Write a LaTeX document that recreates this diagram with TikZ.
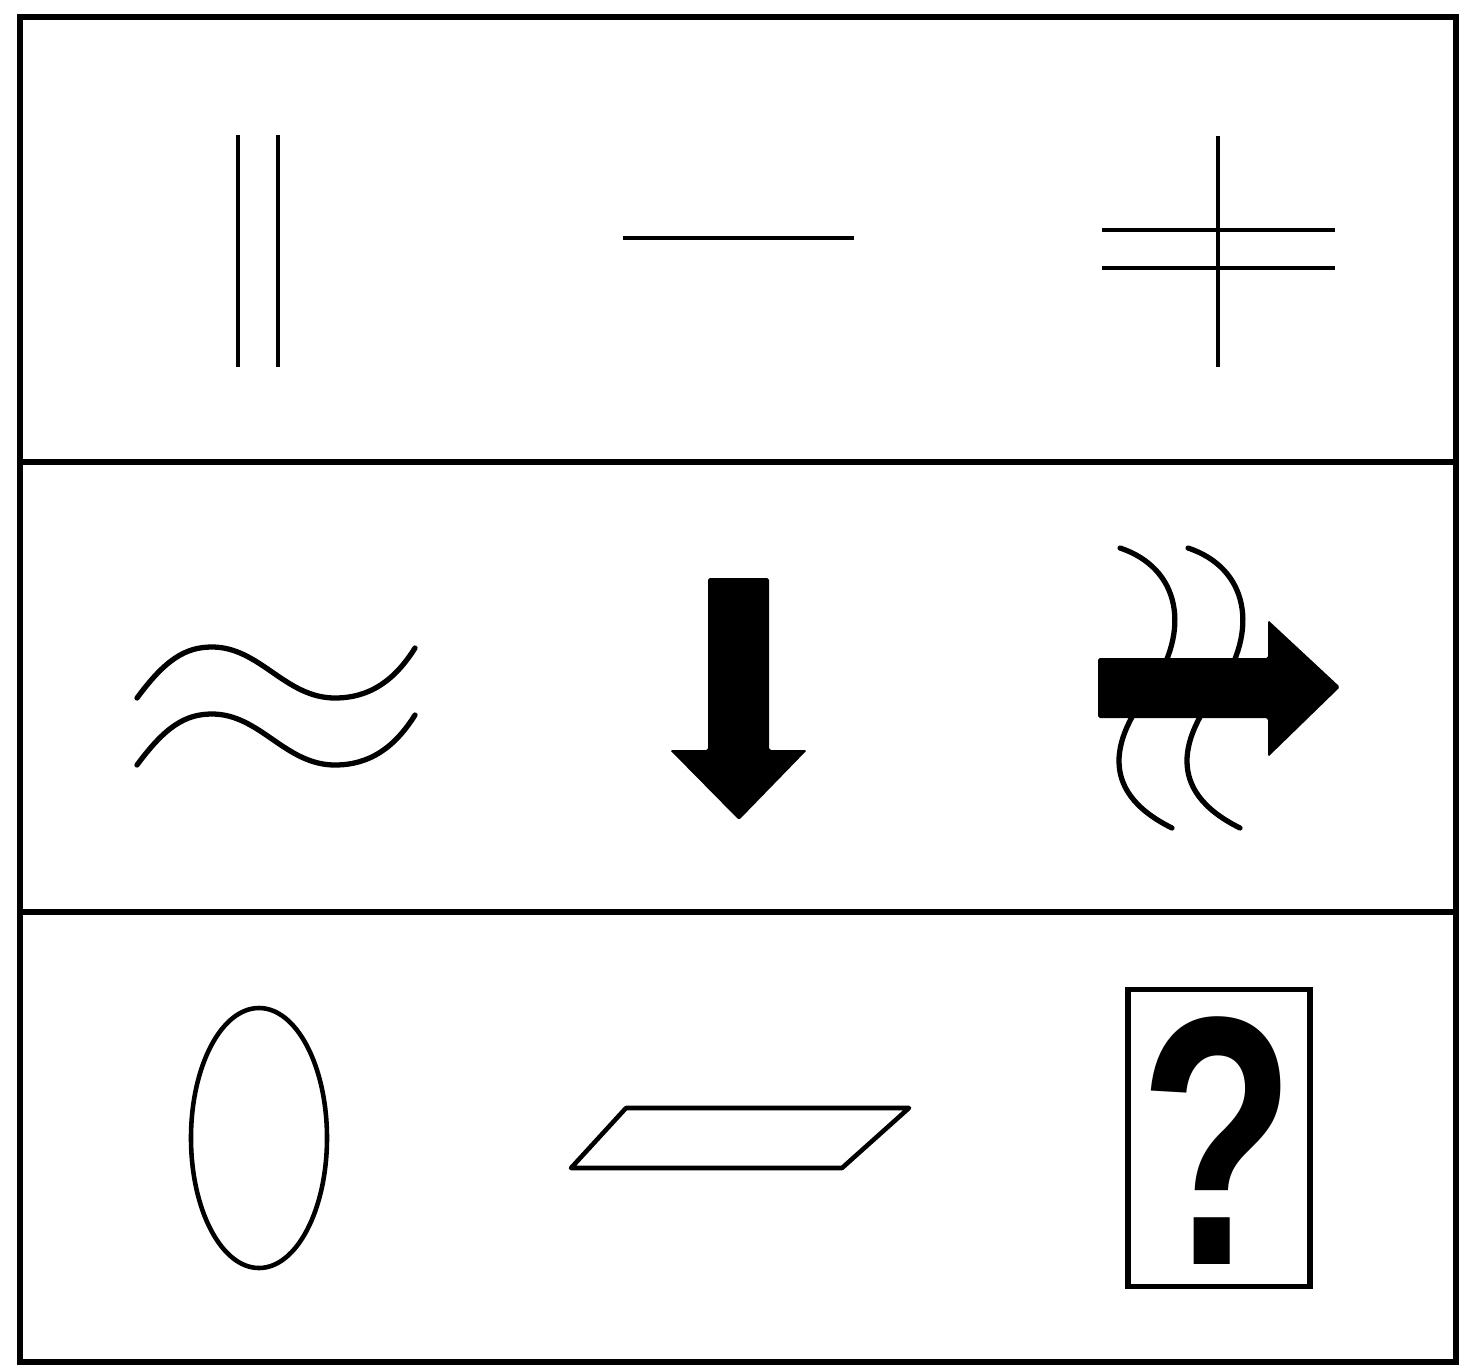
\documentclass[tikz,border=0pt]{standalone}
\usepackage{fontspec}
\newfontfamily\qmarkfont{Liberation Sans}
\usepackage{tikz}
\usetikzlibrary{positioning}

\begin{document}
\begin{tikzpicture}[x=0.02cm,y=-0.02cm,
  frame/.style={line width=3.1pt},
  stroke/.style={line width=2.6pt},
  wave/.style={line width=3pt,line cap=round},
  solidarrow/.style={fill=black,rounded corners=1pt},
  qbox/.style={draw,line width=2.9pt,minimum width=3.64cm,minimum height=5.94cm,inner sep=0pt},
  qmark/.style={font=\qmarkfont\bfseries\fontsize{202}{202}\selectfont,inner sep=0pt,xscale=0.72}]
\useasboundingbox (0,0) rectangle (1464,1369);
\draw[frame] (20,17) rectangle (1456,1362);
\draw[frame] (20,462) -- (1456,462);
\draw[frame] (20,912) -- (1456,912);
\draw[stroke] (238,135) -- (238,367) (278,135) -- (278,367);
\draw[stroke] (623,238) -- (854,238);
\draw[stroke] (1218,136) -- (1218,367);
\draw[stroke] (1102,230) -- (1335,230) (1102,268) -- (1335,268);
\foreach \dy in {0,67}
  \draw[wave,yshift=-\dy*0.02cm] (137,698) .. controls (165,660) and (185,647) .. (212,647)
    .. controls (260,647) and (285,698) .. (335,698) .. controls (370,698) and (395,680) .. (415,648);
\fill[solidarrow] (708,578) -- (769,578) -- (769,750) -- (807,750) -- (739,820) -- (670,750) -- (708,750) -- cycle;
\foreach \dx in {0,68}
  \draw[wave,xshift=\dx*0.02cm] (1120,548) .. controls (1180,568) and (1192,630) .. (1150,690)
    .. controls (1115,735) and (1095,790) .. (1172,828);
\fill[solidarrow] (1098,658) -- (1268,658) -- (1268,620) -- (1340,687) -- (1268,757) -- (1268,718) -- (1098,718) -- cycle;
\draw[stroke] (259,1138) ellipse [x radius=68,y radius=130];
\draw[stroke,line join=round] (571,1168) -- (626,1108) -- (909,1108) -- (842,1168) -- cycle;
\node[qbox] (box) at (1219,1138) {};
\node[qmark] (mark) at (1218,1141) {?};
\end{tikzpicture}
\end{document}
